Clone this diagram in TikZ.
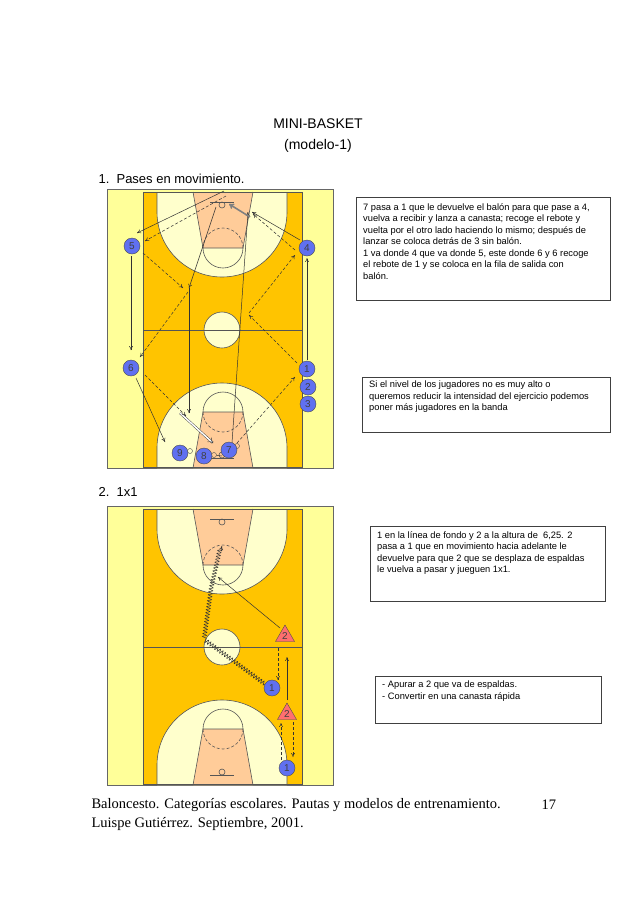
\documentclass[tikz,border=0pt]{standalone}
\usepackage{fontspec}
\setmainfont{Liberation Sans}
\newfontfamily\serifft{Liberation Serif}
\usetikzlibrary{decorations.pathmorphing,arrows.meta,shapes.geometric}
\definecolor{frameY}{HTML}{FFFF99}
\definecolor{courtO}{HTML}{FFC400}
\definecolor{creamC}{HTML}{FFFFCC}
\definecolor{keyC}{HTML}{FFCC99}
\definecolor{playerB}{HTML}{6070F0}
\definecolor{trR}{HTML}{FF6F6F}
\definecolor{lineC}{HTML}{555555}
\tikzset{
  cl/.style={draw=lineC,line width=0.6pt},
  pl/.style={circle,fill=playerB,draw=black!70,line width=0.4pt,minimum size=16pt,inner sep=0pt,font=\fontsize{10}{10}\selectfont,text=black!75},
  tr/.style={regular polygon,regular polygon sides=3,fill=trR,draw=black!70,line width=0.4pt,minimum size=22pt,inner sep=0pt,font=\fontsize{10}{10}\selectfont,text=black!75},
  mv/.style={draw=black!80,line width=0.5pt,-{To[length=4pt,width=4pt]}},
  ps/.style={mv,dashed,dash pattern=on 3pt off 2pt},
  dbl/.style={draw=black!80,double,double distance=1.5pt,line width=0.4pt,-{To[length=5pt,width=6pt]}},
  zz/.style={draw=black!80,line width=0.5pt,decorate,decoration={snake,amplitude=2pt,segment length=3pt}},
  ball/.style={circle,draw=black!70,line width=0.4pt,minimum size=5pt,inner sep=0pt},
  boxn/.style={draw=black!75,line width=0.7pt,inner sep=0pt,anchor=north west},
  txt/.style={anchor=north west,align=left,inner sep=0pt,font=\fontsize{9.3}{11.5}\selectfont},
}
\newcommand{\halfcourt}{%
  \fill[creamC] (-65,-138) -- (-65,-118) arc[start angle=180,end angle=360,x radius=65,y radius=-65] -- (65,-138) -- cycle;
  \draw[cl] (-65,-138) -- (-65,-118) arc[start angle=180,end angle=360,x radius=65,y radius=-65] -- (65,-138);
  \fill[keyC] (-29,-138) -- (-19,-82) -- (21,-82) -- (31,-138) -- cycle;
  \draw[cl] (-29,-138) -- (-19,-82) -- (21,-82) -- (31,-138);
  \draw[cl] (-19,-82) arc[start angle=180,end angle=0,radius=20];
  \draw[cl,dashed,dash pattern=on 3pt off 2pt] (-19,-82) arc[start angle=180,end angle=360,radius=20];
  \draw[cl] (-12,-128) -- (12,-128);
  \draw[cl] (0,-125) circle[radius=3];
}
\newcommand{\court}[1]{%
  \begin{scope}[shift={(222,#1)}]
  \fill[frameY] (-115,-141) rectangle (111,138);
  \draw[draw=black!60,line width=0.5pt] (-115,-141) rectangle (111,138);
  \fill[courtO] (-79,-138) rectangle (80,137);
  \begin{scope}\halfcourt\end{scope}
  \begin{scope}[yscale=-1]\halfcourt\end{scope}
  \fill[creamC] (0,0) circle[radius=18];
  \draw[cl] (0,0) circle[radius=18];
  \draw[cl] (-79,0) -- (80,0);
  \draw[cl] (-79,-138) rectangle (80,137);
  \end{scope}}
\begin{document}
\begin{tikzpicture}[x=1pt,y=-1pt]
\useasboundingbox (0,0) rectangle (638,903);
\fill[white] (0,0) rectangle (638,903);
\node[font=\fontsize{14}{14}\selectfont] (title) at (318,124) {MINI-BASKET};
\node[font=\fontsize{14}{14}\selectfont] (sub) at (318,146) {(modelo-1)};
\node[anchor=west,font=\fontsize{13}{13}\selectfont] (h1) at (95,179) {1.\ \ Pases en movimiento.};
\node[anchor=west,font=\fontsize{13}{13}\selectfont] (h2) at (95,492) {2.\ \ 1x1};
% court 1
\court{330}
\draw[mv] (224,191) -- (137,233);
\draw[mv] (131,256) -- (131,350);
\draw[mv] (136,378) -- (165,442);
\draw[mv] (307,360) -- (307,258);
\draw[mv] (300,240) -- (252,212);
\draw[mv] (216,207) -- (189,288);
\draw[mv] (189,288) -- (189,413);
\draw[mv] (232,443) -- (248,212);
\draw[dbl] (180,413) -- (213,443);
\draw[draw=gray,line width=1.6pt,-{To[length=5pt,width=6pt]}] (250,217) -- (229,204);
\draw[ps] (226,196) -- (145,241);
\draw[ps] (143,253) -- (183,288);
\draw[ps] (188,292) -- (140,357);
\draw[ps] (297,363) -- (249,315);
\draw[ps] (249,313) -- (295,255);
\draw[ps] (295,250) -- (253,214);
\draw[ps] (145,375) -- (186,416);
\draw[ps] (237,443) -- (295,377);
\node[pl] (p5) at (132,246) {5};
\node[pl] (p4) at (307,248) {4};
\node[pl] (p6) at (131,368) {6};
\node[pl] (p1) at (307,369) {1};
\node[pl] (p2) at (308,387) {2};
\node[pl] (p3) at (308,404) {3};
\node[ball] (b9) at (190,451) {};
\node[pl] (p9) at (180,453) {9};
\node[ball] (b8) at (214,455) {};
\node[pl] (p8) at (204,456) {8};
\draw[draw=black!80,line width=0.5pt] (b8) -- (222,456);
\node[ball] (b7) at (237,446) {};
\node[pl] (p7) at (229,450) {7};
% court 2
\court{647}
\draw[zz] (265,684) -- (205,640) -- (212,590) -- (221,550);
\draw[mv] (221,550) -- (222,546);
\draw[mv] (280,628) -- (218,577);
\draw[ps] (278,648) -- (278,680);
\draw[mv] (287,700) -- (287,657);
\draw[ps] (281,760) -- (281,723);
\draw[ps] (293,722) -- (293,757);
\node[tr] (t2a) at (285,636) {2};
\node[pl] (q1a) at (272,688) {1};
\node[tr] (t2b) at (287,714) {2};
\node[pl] (q1b) at (287,768) {1};
% text boxes
\node[boxn,minimum width=254pt,minimum height=103pt] (box1) at (356,197) {};
\node[txt] (t1) at (363,203) {7 pasa a 1 que le devuelve el balón para que pase a 4,\\vuelva a recibir y lanza a canasta; recoge el rebote y\\vuelta por el otro lado haciendo lo mismo; después de\\lanzar se coloca detrás de 3 sin balón.\\1 va donde 4 que va donde 5, este donde 6 y 6 recoge\\el rebote de 1 y se coloca en la fila de salida con\\balón.};
\node[boxn,minimum width=248pt,minimum height=55pt] (box2) at (362,377) {};
\node[txt] (t2) at (369,381) {Si el nivel de los jugadores no es muy alto o\\queremos reducir la intensidad del ejercicio podemos\\poner más jugadores en la banda};
\node[boxn,minimum width=235pt,minimum height=75pt] (box3) at (370,526) {};
\node[txt] (t3) at (377,531) {1 en la línea de fondo y 2 a la altura de\ \ 6,25. 2\\pasa a 1 que en movimiento hacia adelante le\\devuelve para que 2 que se desplaza de espaldas\\le vuelva a pasar y jueguen 1x1.};
\node[boxn,minimum width=226pt,minimum height=47pt] (box4) at (375,676) {};
\node[txt] (t4) at (382,681) {- Apurar a 2 que va de espaldas.\\- Convertir en una canasta rápida};
% footer
\node[anchor=west,font=\serifft\fontsize{14.5}{14.5}\selectfont] (f1) at (88,805) {Baloncesto. Categorías escolares. Pautas y modelos de entrenamiento.};
\node[anchor=west,font=\serifft\fontsize{14.5}{14.5}\selectfont] (f2) at (538,805) {17};
\node[anchor=west,font=\serifft\fontsize{14.5}{14.5}\selectfont] (f3) at (88,824) {Luispe Gutiérrez. Septiembre, 2001.};
\end{tikzpicture}
\end{document}
